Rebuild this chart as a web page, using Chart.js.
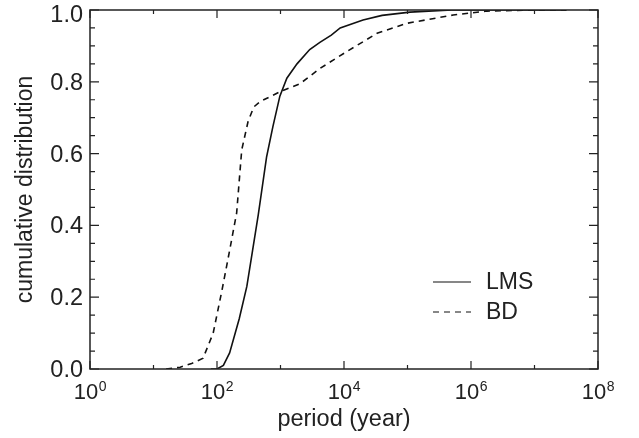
<!DOCTYPE html>
<html lang="en">
<head>
<meta charset="UTF-8" />
<title>Cumulative period distribution</title>
<script src="https://cdn.jsdelivr.net/npm/chart.js"></script>
<style>
  html, body { margin: 0; padding: 0; background: #fff; }
</style>
</head>
<body>
<canvas id="cdf" width="639" height="438"></canvas>
<script>
  // period in years, cumulative fraction
  const lmsPeriod = [80, 100, 126, 158, 224, 295, 363, 447, 603, 759, 977, 1259, 1820, 2884, 4169, 6310, 8710, 19950, 39810, 109600, 501200, 3.2e7];
  const lmsCum    = [0.0, 0.0, 0.01, 0.045, 0.14, 0.23, 0.33, 0.43, 0.59, 0.675, 0.76, 0.81, 0.85, 0.89, 0.91, 0.93, 0.95, 0.972, 0.985, 0.994, 1.0, 1.0];

  const bdPeriod = [15.8, 26.3, 39.8, 60.3, 87.1, 120, 158, 204, 245, 309, 380, 479, 977, 2042, 4169, 11220, 33110, 97720, 524800, 1778000, 1e7, 3.16e7];
  const bdCum    = [0.0, 0.005, 0.015, 0.03, 0.1, 0.22, 0.33, 0.435, 0.61, 0.69, 0.73, 0.745, 0.772, 0.795, 0.837, 0.885, 0.935, 0.963, 0.986, 0.997, 1.0, 1.0];

  const xTickValues = [1, 1e2, 1e4, 1e6, 1e8];
  const xTickBase = '10';
  const xTickExp = ['0', '2', '4', '6', '8'];
  const yTickValues = [0, 0.2, 0.4, 0.6, 0.8, 1.0];
  const yTickLabels = ['0.0', '0.2', '0.4', '0.6', '0.8', '1.0'];
  const seriesNames = ['LMS', 'BD'];

  const FONT = '"Liberation Sans", Arial, Helvetica, sans-serif';
  const INK = '#222';

  const toPoints = (xs, ys) => xs.map((x, i) => ({ x: x, y: ys[i] }));

  // box with inward ticks on all four sides, plus tick labels
  const framePlugin = {
    id: 'frame',
    afterDraw(chart) {
      const { ctx, chartArea: a, scales } = chart;
      ctx.save();
      ctx.strokeStyle = INK;
      ctx.lineWidth = 1.5;
      ctx.strokeRect(a.left, a.top, a.right - a.left, a.bottom - a.top);
      ctx.lineWidth = 1.2;
      ctx.beginPath();
      for (let e = 0; e <= 8; e++) {
        const px = scales.x.getPixelForValue(Math.pow(10, e));
        const len = e % 2 === 0 ? 8 : 4;
        ctx.moveTo(px, a.bottom); ctx.lineTo(px, a.bottom - len);
        ctx.moveTo(px, a.top); ctx.lineTo(px, a.top + len);
      }
      for (let k = 0; k <= 20; k++) {
        const py = scales.y.getPixelForValue(k * 0.05);
        const len = k % 4 === 0 ? 9 : 5;
        ctx.moveTo(a.left, py); ctx.lineTo(a.left + len, py);
        ctx.moveTo(a.right, py); ctx.lineTo(a.right - len, py);
      }
      ctx.stroke();

      ctx.fillStyle = INK;

      // y tick labels (top one nudged down to stay inside the page)
      ctx.font = '23.5px ' + FONT;
      ctx.textAlign = 'right';
      ctx.textBaseline = 'middle';
      yTickValues.forEach((v, i) => {
        const py = scales.y.getPixelForValue(v);
        ctx.fillText(yTickLabels[i], a.left - 7, Math.max(py + 1.5, a.top + 6));
      });

      // x tick labels with superscript exponent
      ctx.textBaseline = 'alphabetic';
      ctx.textAlign = 'left';
      xTickValues.forEach((v, i) => {
        const px = scales.x.getPixelForValue(v);
        ctx.font = '22px ' + FONT;
        const wb = ctx.measureText(xTickBase).width;
        ctx.font = '14px ' + FONT;
        const we = ctx.measureText(xTickExp[i]).width;
        const x0 = px - (wb + we) / 2;
        ctx.font = '22px ' + FONT;
        ctx.fillText(xTickBase, x0, a.bottom + 30);
        ctx.font = '14px ' + FONT;
        ctx.fillText(xTickExp[i], x0 + wb + 0.5, a.bottom + 22);
      });
      ctx.restore();
    }
  };

  // legend drawn inside the plot, lower right
  const legendPlugin = {
    id: 'innerLegend',
    afterDraw(chart) {
      const { ctx, chartArea: a } = chart;
      ctx.save();
      ctx.font = '23px ' + FONT;
      ctx.textBaseline = 'middle';
      ctx.fillStyle = INK;
      chart.data.datasets.forEach((ds, i) => {
        const y = a.bottom - 87 + i * 30;
        ctx.strokeStyle = ds.borderColor;
        ctx.lineWidth = 1.2;
        ctx.setLineDash(ds.borderDash || []);
        ctx.beginPath();
        ctx.moveTo(a.right - 165, y);
        ctx.lineTo(a.right - 127, y);
        ctx.stroke();
        ctx.fillText(ds.label, a.right - 112, y + 1);
      });
      ctx.restore();
    }
  };

  new Chart(document.getElementById('cdf'), {
    type: 'line',
    data: {
      datasets: [{
        label: seriesNames[0],
        data: toPoints(lmsPeriod, lmsCum),
        borderColor: '#111',
        borderWidth: 1.6,
        pointRadius: 0,
        tension: 0
      }, {
        label: seriesNames[1],
        data: toPoints(bdPeriod, bdCum),
        borderColor: '#111',
        borderWidth: 1.6,
        borderDash: [6, 5],
        pointRadius: 0,
        tension: 0
      }]
    },
    options: {
      responsive: false,
      animation: false,
      layout: { padding: { top: 10, right: 41, left: 0, bottom: 0 } },
      plugins: {
        legend: { display: false },
        tooltip: { enabled: false }
      },
      scales: {
        x: {
          type: 'logarithmic',
          min: 1,
          max: 1e8,
          afterBuildTicks: s => { s.ticks = xTickValues.map(v => ({ value: v })); },
          afterFit: s => { s.height = 69; s.paddingLeft = 0; s.paddingRight = 0; },
          ticks: { display: false },
          grid: { display: false, drawTicks: false },
          border: { display: false },
          title: {
            display: true,
            text: 'period (year)',
            font: { family: FONT, size: 23.5 },
            color: INK,
            padding: { top: 0, bottom: 4 }
          }
        },
        y: {
          min: 0,
          max: 1,
          afterFit: s => { s.width = 90; s.paddingTop = 0; s.paddingBottom = 0; },
          ticks: { display: false, stepSize: 0.2 },
          grid: { display: false, drawTicks: false },
          border: { display: false },
          title: {
            display: true,
            text: 'cumulative distribution',
            font: { family: FONT, size: 23 },
            color: INK,
            padding: { top: 12, bottom: 0 }
          }
        }
      }
    },
    plugins: [framePlugin, legendPlugin]
  });
</script>
</body>
</html>
